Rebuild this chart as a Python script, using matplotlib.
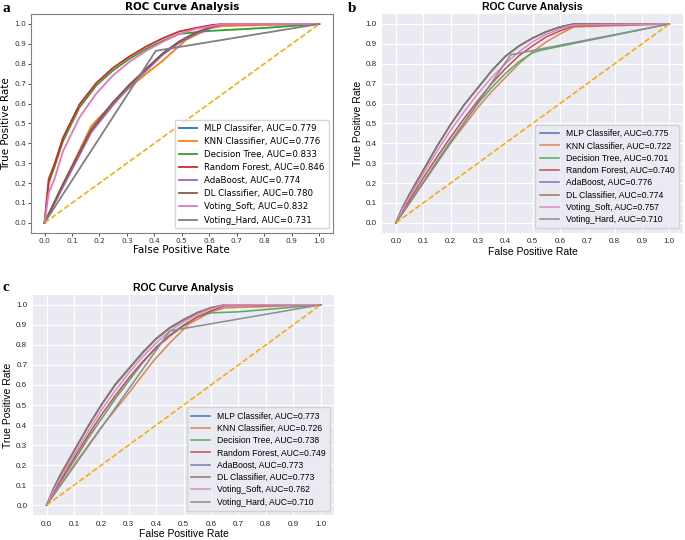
import matplotlib
matplotlib.use("Agg")
import matplotlib.pyplot as plt
import numpy as np

# legend names, same order in every panel
models = ["MLP Classifer", "KNN Classifier", "Decision Tree", "Random Forest",
          "AdaBoost", "DL Classifier", "Voting_Soft", "Voting_Hard"]

# ---- panel a : AUC values and curve points
a_auc = ["0.779", "0.776", "0.833", "0.846", "0.774", "0.780", "0.832", "0.731"]
a_fpr = [
    [0, 0.067, 0.17, 0.248, 0.309, 0.37, 0.43, 0.49, 0.55, 0.61, 0.65, 1.0],
    [0, 0.17, 0.248, 0.309, 0.37, 0.43, 0.515, 0.6, 0.65, 1.0],
    [0, 0.015, 0.036, 0.067, 0.127, 0.188, 0.248, 0.309, 0.37, 0.43, 0.49, 0.6, 0.8, 1.0],
    [0, 0.015, 0.036, 0.067, 0.127, 0.188, 0.248, 0.309, 0.37, 0.43, 0.49, 0.55, 0.61, 0.65, 1.0],
    [0, 0.067, 0.17, 0.248, 0.309, 0.37, 0.43, 0.49, 0.55, 0.61, 0.65, 1.0],
    [0, 0.067, 0.17, 0.248, 0.309, 0.37, 0.43, 0.49, 0.55, 0.61, 0.65, 1.0],
    [0, 0.015, 0.036, 0.067, 0.127, 0.188, 0.248, 0.309, 0.37, 0.43, 0.49, 0.55, 0.61, 0.65, 1.0],
    [0, 0.405, 1.0],
]
a_tpr = [
    [0, 0.19, 0.465, 0.6, 0.69, 0.77, 0.85, 0.91, 0.955, 0.985, 1.0, 1.0],
    [0, 0.487, 0.6, 0.68, 0.75, 0.815, 0.92, 0.978, 0.99, 1.0],
    [0, 0.2, 0.28, 0.41, 0.58, 0.69, 0.765, 0.825, 0.875, 0.915, 0.95, 0.965, 0.98, 1.0],
    [0, 0.22, 0.295, 0.428, 0.595, 0.703, 0.778, 0.837, 0.887, 0.928, 0.962, 0.98, 0.995, 1.0, 1.0],
    [0, 0.18, 0.455, 0.59, 0.685, 0.765, 0.845, 0.905, 0.95, 0.982, 0.998, 1.0],
    [0, 0.195, 0.47, 0.605, 0.695, 0.775, 0.852, 0.912, 0.957, 0.987, 1.0, 1.0],
    [0, 0.15, 0.22, 0.36, 0.53, 0.65, 0.74, 0.81, 0.865, 0.91, 0.95, 0.975, 0.99, 1.0, 1.0],
    [0, 0.865, 1.0],
]

# fpr grid shared by the smooth curves of panels b and c
grid_bc = [0, 0.025, 0.05, 0.1, 0.15, 0.2, 0.25, 0.3, 0.35, 0.4, 0.45, 0.5, 0.55, 0.6, 0.65, 1.0]

# ---- panel b
b_auc = ["0.775", "0.722", "0.701", "0.740", "0.776", "0.774", "0.757", "0.710"]
b_fpr = [
    grid_bc,
    grid_bc,
    [0, 0.05, 0.1, 0.15, 0.2, 0.25, 0.3, 0.35, 0.4, 0.45, 0.5, 0.53, 1.0],
    grid_bc,
    grid_bc,
    grid_bc,
    grid_bc,
    [0, 0.42, 1.0],
]
b_tpr = [
    [0, 0.078, 0.143, 0.263, 0.383, 0.493, 0.593, 0.678, 0.763, 0.836, 0.888, 0.928, 0.96, 0.984, 1.0, 1.0],
    [0, 0.05, 0.1, 0.2, 0.3, 0.4, 0.49, 0.58, 0.66, 0.73, 0.8, 0.86, 0.91, 0.95, 0.985, 1.0],
    [0, 0.1, 0.205, 0.31, 0.41, 0.505, 0.6, 0.68, 0.75, 0.81, 0.855, 0.868, 1.0],
    [0, 0.06, 0.115, 0.225, 0.33, 0.43, 0.525, 0.615, 0.7, 0.775, 0.84, 0.89, 0.935, 0.965, 0.99, 1.0],
    [0, 0.08, 0.145, 0.265, 0.385, 0.495, 0.595, 0.68, 0.765, 0.838, 0.89, 0.93, 0.962, 0.985, 1.0, 1.0],
    [0, 0.079, 0.144, 0.264, 0.384, 0.494, 0.594, 0.679, 0.764, 0.837, 0.889, 0.929, 0.961, 0.985, 1.0, 1.0],
    [0, 0.07, 0.13, 0.245, 0.36, 0.465, 0.56, 0.65, 0.73, 0.8, 0.86, 0.91, 0.948, 0.975, 0.995, 1.0],
    [0, 0.845, 1.0],
]

# ---- panel c
c_auc = ["0.773", "0.726", "0.738", "0.749", "0.773", "0.773", "0.762", "0.710"]
c_fpr = [
    grid_bc,
    [0, 0.1, 0.2, 0.3, 0.39, 0.45, 0.52, 0.6, 0.65, 1.0],
    [0, 0.025, 0.05, 0.1, 0.15, 0.2, 0.25, 0.3, 0.35, 0.4, 0.45, 0.5, 0.55, 0.6, 0.7, 1.0],
    grid_bc,
    grid_bc,
    grid_bc,
    grid_bc,
    [0, 0.45, 1.0],
]
c_tpr = [
    [0, 0.08, 0.15, 0.27, 0.39, 0.5, 0.6, 0.68, 0.76, 0.83, 0.885, 0.925, 0.96, 0.985, 1.0, 1.0],
    [0, 0.2, 0.39, 0.56, 0.72, 0.81, 0.905, 0.965, 0.985, 1.0],
    [0, 0.06, 0.115, 0.22, 0.33, 0.43, 0.53, 0.62, 0.71, 0.79, 0.85, 0.9, 0.94, 0.96, 0.965, 1.0],
    [0, 0.065, 0.12, 0.235, 0.345, 0.45, 0.545, 0.635, 0.715, 0.785, 0.845, 0.895, 0.94, 0.97, 0.995, 1.0],
    [0, 0.079, 0.149, 0.269, 0.389, 0.499, 0.599, 0.679, 0.759, 0.829, 0.884, 0.924, 0.959, 0.984, 1.0, 1.0],
    [0, 0.081, 0.151, 0.272, 0.392, 0.503, 0.603, 0.683, 0.763, 0.833, 0.887, 0.927, 0.962, 0.986, 1.0, 1.0],
    [0, 0.07, 0.135, 0.25, 0.365, 0.475, 0.57, 0.66, 0.74, 0.81, 0.87, 0.915, 0.952, 0.98, 1.0, 1.0],
    [0, 0.87, 1.0],
]

ticks = np.arange(0, 1.01, 0.1)
tab_colors = ['#1f77b4', '#ff7f0e', '#2ca02c', '#d62728',
              '#9467bd', '#8c564b', '#e377c2', '#7f7f7f']
deep_colors = ['#4C72B0', '#DD8452', '#55A868', '#C44E52',
               '#8172B3', '#937860', '#DA8BC3', '#8C8C8C']


def draw_panel(ax, fpr, tpr, auc, colors, lw, font, seaborn_look):
    for i in range(len(models)):
        ax.plot(fpr[i], tpr[i], color=colors[i], lw=lw,
                label=f"{models[i]}, AUC={auc[i]}")
    ax.plot([0, 1], [0, 1], color='orange', ls='--', lw=1.1)
    tick_fs = 5.8 if seaborn_look else 5.3
    ax.set_xticks(ticks)
    ax.set_yticks(ticks)
    ax.set_xticklabels([f"{t:.1f}" for t in ticks], fontsize=tick_fs, family=font)
    ax.set_yticklabels([f"{t:.1f}" for t in ticks], fontsize=tick_fs, family=font)
    ax.set_xlabel("False Positive Rate", fontsize=7.5, family=font, labelpad=1)
    ax.set_ylabel("True Positive Rate", fontsize=7.5, family=font, labelpad=2)
    ax.set_title("ROC Curve Analysis", fontsize=7.5, fontweight='bold',
                 family=font, pad=3)
    if seaborn_look:
        ax.set_facecolor('#EAEAF2')
        ax.grid(color='white', lw=0.9)
        ax.set_axisbelow(True)
        for s in ax.spines.values():
            s.set_visible(False)
        ax.tick_params(length=0, pad=4, colors='#262626')
        leg = ax.legend(loc='lower right', prop={'family': font, 'size': 6.2},
                        labelspacing=0.38, handlelength=2.2, borderpad=0.5,
                        handletextpad=0.8, framealpha=0.8)
        leg.get_frame().set_facecolor('#EAEAF2')
    else:
        for s in ax.spines.values():
            s.set_color('#808080')
        ax.tick_params(length=2, width=0.6, pad=1.5, colors='#333333')
        ax.legend(loc='lower right', prop={'family': font, 'size': 6.2},
                  labelspacing=0.48, handlelength=2.2, borderpad=0.45,
                  handletextpad=0.8, framealpha=0.8)


fig = plt.figure(figsize=(6.85, 5.4), dpi=100)
ax_a = fig.add_axes([0.045, 0.569, 0.441, 0.405])
ax_b = fig.add_axes([0.558, 0.569, 0.439, 0.405])
ax_c = fig.add_axes([0.048, 0.046, 0.440, 0.408])

draw_panel(ax_a, a_fpr, a_tpr, a_auc, tab_colors, 1.3, 'DejaVu Sans', False)
draw_panel(ax_b, b_fpr, b_tpr, b_auc, deep_colors, 1.1, 'Liberation Sans', True)
draw_panel(ax_c, c_fpr, c_tpr, c_auc, deep_colors, 1.1, 'Liberation Sans', True)

for lab, x, y in [("a", 0.004, 0.985), ("b", 0.508, 0.985), ("c", 0.004, 0.467)]:
    fig.text(x, y, lab, fontsize=11, fontweight='bold', family='Liberation Serif',
             va='center', ha='left')

fig.savefig("out.png", dpi=100)
